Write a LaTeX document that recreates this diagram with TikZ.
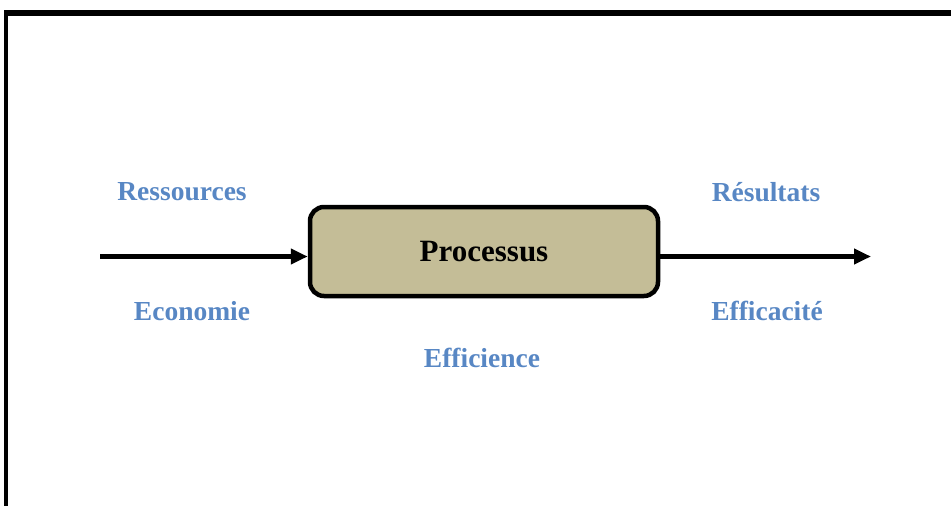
\documentclass[tikz,border=0pt]{standalone}
\usepackage{fontspec}
\setmainfont{Liberation Serif}
\usetikzlibrary{arrows.meta}
\definecolor{labelblue}{RGB}{88,135,196}
\definecolor{boxtan}{RGB}{196,189,151}
\tikzset{
  lbl/.style={text=labelblue, font=\fontsize{27.5}{32}\selectfont\bfseries, inner sep=0pt},
  procbox/.style={draw=black, line width=4.5pt, fill=boxtan, rounded corners=14pt,
    minimum width=348pt, minimum height=89pt, font=\fontsize{31}{36}\selectfont\bfseries},
  flow/.style={line width=4.5pt, -{Triangle[length=17pt,width=15pt]}}
}
\begin{document}
\begin{tikzpicture}[x=1pt,y=-1pt]
  \useasboundingbox (0,0) rectangle (951,506);
  % frame: thick top edge, thinner left edge
  \fill[black] (4,9.5) rectangle (951,16);
  \fill[black] (4,9.5) rectangle (7.5,506);
  % process box
  \node[procbox] (proc) at (484,251.5) {Processus};
  % input and output arrows, slightly below the box centre line
  \coordinate (in) at (100,256.5);
  \coordinate (out) at (871,256.5);
  \draw[flow] (in) -- (in -| proc.west);
  \draw[flow] (out -| proc.east) -- (out);
  % labels
  \node[lbl] (res) at (182,192) {Ressources};
  \node[lbl] (eco) at (192,311) {Economie};
  \node[lbl] (rsl) at (766,192) {Résultats};
  \node[lbl] (eff) at (767,311) {Efficacité};
  \node[lbl] (effi) at (482,358) {Efficience};
\end{tikzpicture}
\end{document}
